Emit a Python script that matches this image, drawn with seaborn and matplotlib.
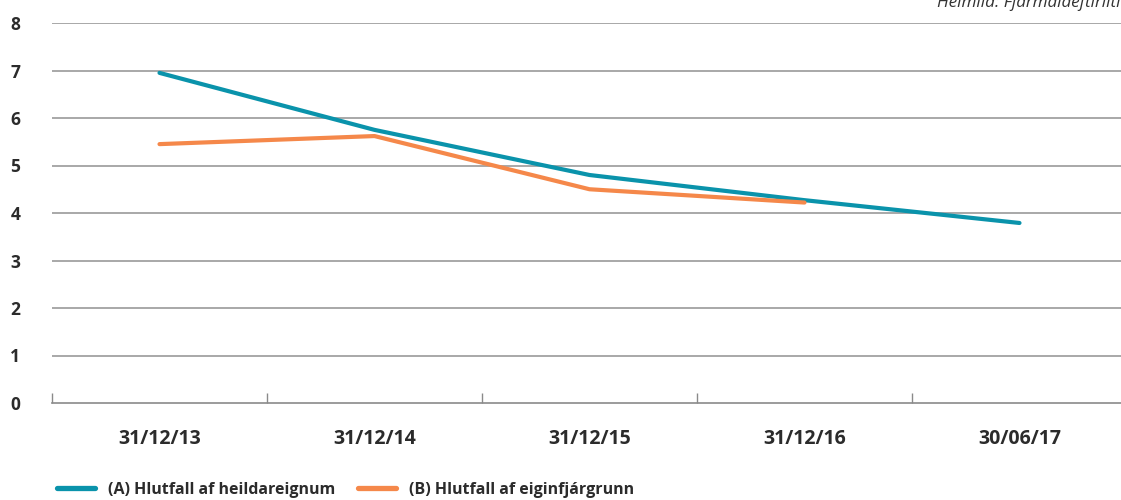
import matplotlib
matplotlib.use("Agg")
import matplotlib.pyplot as plt
from matplotlib.lines import Line2D
from matplotlib.ticker import FixedLocator
import seaborn as sns
import pandas as pd
import numpy as np

# Dagsetningar og hlutföll (%)
dagsetningar = ["31/12/13", "31/12/14", "31/12/15", "31/12/16", "30/06/17"]
hlutfall_a = [6.95, 5.75, 4.80, 4.27, 3.79]
hlutfall_b = [5.45, 5.62, 4.50, 4.22, np.nan]
heiti_a = "(A) Hlutfall af heildareignum"
heiti_b = "(B) Hlutfall af eiginfjárgrunn"
heimild = "Heimild: Fjármálaeftirlitið"

litur_a = "#0A93AB"
litur_b = "#F5884A"

sns.set_theme(style="white")
plt.rcParams["font.family"] = ["Open Sans", "DejaVu Sans"]

df = pd.DataFrame({
    "dags": dagsetningar * 2,
    "stada": list(range(len(dagsetningar))) * 2,
    "gildi": hlutfall_a + hlutfall_b,
    "rod": [heiti_a] * len(dagsetningar) + [heiti_b] * len(dagsetningar),
}).dropna()

fig = plt.figure(figsize=(11.21, 5.0), dpi=100)
ax = fig.add_axes([52 / 1121, 97 / 500, 1075 / 1121, 380 / 500])

sns.lineplot(data=df, x="stada", y="gildi", hue="rod",
             palette={heiti_a: litur_a, heiti_b: litur_b},
             linewidth=3.0, ax=ax, legend=False, sort=False)
for ln in ax.lines:
    ln.set_solid_capstyle("round")
    ln.set_solid_joinstyle("round")

ax.set_xlim(-0.5, 4.5)
ax.set_ylim(0, 8)
ax.set_xlabel("")
ax.set_ylabel("")

# Láréttar viðmiðunarlínur
ax.set_yticks(range(0, 9))
for v in range(1, 9):
    ax.axhline(v, color="#9a9a9a", linewidth=1.2, zorder=0)

for s in ["top", "right", "left"]:
    ax.spines[s].set_visible(False)
ax.spines["bottom"].set_color("#8a8a8a")
ax.spines["bottom"].set_linewidth(1.2)

ax.set_xticks(range(len(dagsetningar)))
ax.set_xticklabels(dagsetningar)
ax.xaxis.set_minor_locator(FixedLocator([-0.5, 0.5, 1.5, 2.5, 3.5]))
ax.tick_params(axis="x", which="major", length=0, pad=19, labelsize=14,
               labelcolor="#2b2b2b")
ax.tick_params(axis="x", which="minor", direction="in", length=7, width=1,
               color="#8a8a8a", bottom=True)
ax.tick_params(axis="y", length=0, pad=30, labelsize=12.5, labelcolor="#2b2b2b")
for t in ax.get_xticklabels() + ax.get_yticklabels():
    t.set_fontweight("bold")
for t in ax.get_yticklabels():
    t.set_horizontalalignment("left")

fig.text(937 / 1121, 493 / 500, heimild, fontsize=12.3, style="italic",
         color="#333333", ha="left", va="baseline")

handles = [Line2D([0], [0], color=litur_a, linewidth=3.8),
           Line2D([0], [0], color=litur_b, linewidth=3.8)]
leg = fig.legend(handles, [heiti_a, heiti_b], loc="center left",
                 bbox_to_anchor=(57 / 1121, 10 / 500), ncol=2, frameon=False,
                 borderpad=0, borderaxespad=0,
                 handlelength=2.4, handletextpad=0.8, columnspacing=1.4,
                 prop={"size": 11.5, "weight": "bold"})
for t in leg.get_texts():
    t.set_color("#2b2b2b")

fig.savefig("out.png", dpi=100)
